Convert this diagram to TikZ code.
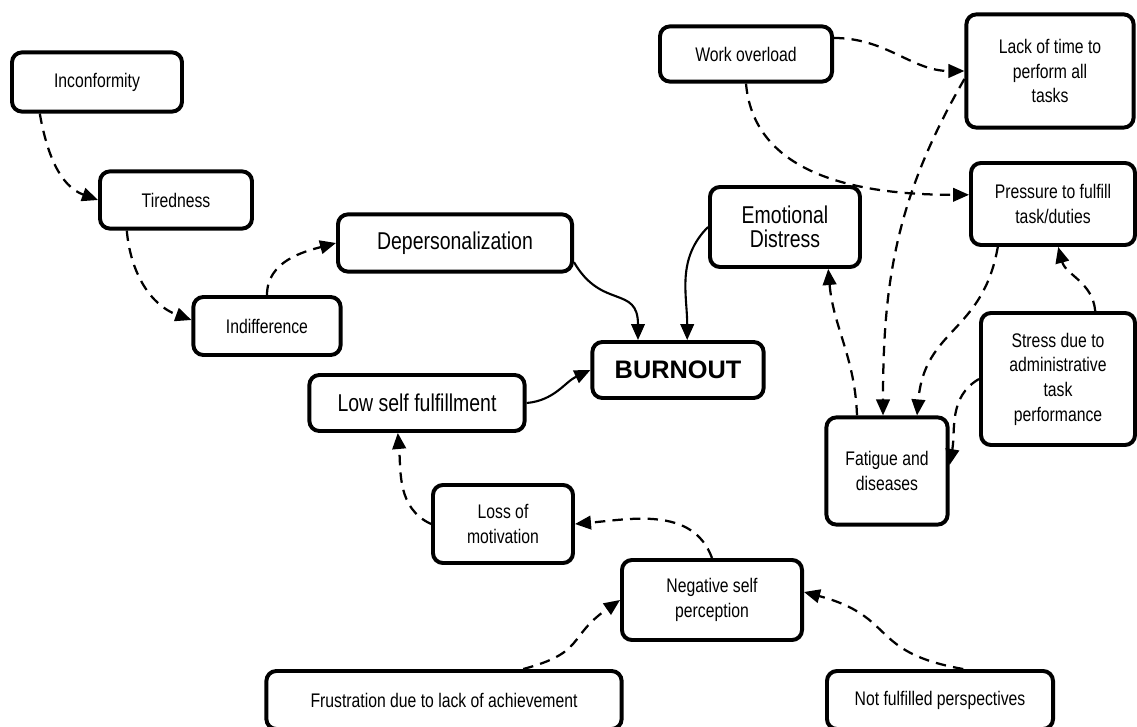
\documentclass[tikz,border=0pt]{standalone}
\usepackage{fontspec}
\setmainfont{Liberation Sans}[FakeStretch=0.8]
\newfontfamily\headfont{Liberation Sans}
\usetikzlibrary{arrows.meta}

\begin{document}
\begin{tikzpicture}[
                    x=0.025cm, y=-0.025cm,
                    every node/.style={
                        draw,
                        rectangle,
                        rounded corners=0.25cm,
                        line width=2.8pt,
                        align=center,
                        inner sep=2pt,
                        font=\fontsize{14}{17.5}\selectfont
                    },
                    big/.style={font=\fontsize{17.3}{17.5}\selectfont},
                    link/.style={line width=1.6pt, dash pattern=on 2.6mm off 1.8mm,
                        -{Triangle[length=4mm,width=3.4mm]}},
                    solidlink/.style={line width=1.5pt, -{Triangle[length=4mm,width=3.4mm]}}
                ]
                    \useasboundingbox (0,0) rectangle (1137,727);

                    \node[minimum width=4.25cm, minimum height=1.48cm] (incon) at (97,82) {Inconformity};
                    \node[minimum width=3.8cm, minimum height=1.43cm] (tired) at (176,200) {Tiredness};
                    \node[minimum width=3.68cm, minimum height=1.45cm] (indiff) at (267,326) {Indifference};
                    \node[big, minimum width=5.85cm, minimum height=1.43cm] (depers) at (455,243) {Depersonalization};
                    \node[big, minimum width=5.38cm, minimum height=1.4cm] (lowself) at (417,403) {Low self fulfillment};
                    \node[minimum width=4.28cm, minimum height=1.4cm,
                          font=\headfont\bfseries\fontsize{18}{20}\selectfont] (burnout) at (678,370) {BURNOUT};
                    \node[big, minimum width=3.75cm, minimum height=2cm] (emot) at (785,227) {Emotional\\Distress};
                    \node[minimum width=4.3cm, minimum height=1.38cm] (work) at (746,54) {Work overload};
                    \node[minimum width=4.18cm, minimum height=2.83cm] (lack) at (1050,71) {Lack of time to\\perform all\\tasks};
                    \node[minimum width=4.1cm, minimum height=2.05cm] (press) at (1053,204) {Pressure to fulfill\\task/duties};
                    \node[minimum width=3.85cm, minimum height=3.3cm] (stress) at (1058,379) {Stress due to\\administrative\\task\\performance};
                    \node[minimum width=3.03cm, minimum height=2.68cm] (fatigue) at (887,471) {Fatigue and\\diseases};
                    \node[minimum width=3.5cm, minimum height=1.95cm] (loss) at (503,524) {Loss of\\motivation};
                    \node[minimum width=4.5cm, minimum height=2cm] (neg) at (712,600) {Negative self\\perception};
                    \node[minimum width=8.88cm, minimum height=1.45cm] (frust) at (444,700) {Frustration due to lack of achievement};
                    \node[minimum width=5.65cm, minimum height=1.45cm] (notful) at (940,700) {Not fulfilled perspectives};

                    % Links
                    \draw[link] ([xshift=-1.43cm]incon.south) to[out=-80, in=160] (tired.west);
                    \draw[link] ([xshift=-1.23cm]tired.south) to[out=-85, in=160] ([yshift=0.15cm]indiff.west);
                    \draw[link] (indiff.north) to[out=90, in=195] (depers.west);
                    \draw[solidlink] ([yshift=-0.48cm]depers.east) to[out=-60, in=90, looseness=1.4] ([xshift=-1cm]burnout.north);
                    \draw[solidlink] (emot.west) to[out=225, in=90] ([xshift=0.23cm]burnout.north);
                    \draw[solidlink] (lowself.east) to[out=5, in=205] (burnout.west);
                    \draw[link] (loss.west) to[out=155, in=-85] ([xshift=-0.48cm]lowself.south);
                    \draw[link] (neg.north) to[out=110, in=5] (loss.east);
                    \draw[link] ([xshift=1.98cm]frust.north) to[out=15, in=215, looseness=1.4] (neg.west);
                    \draw[link] ([xshift=0.58cm]notful.north) to[out=170, in=-15, looseness=1.4] ([yshift=0.2cm]neg.east);
                    \draw[link] ([yshift=0.4cm]work.east) to[out=0, in=180] (lack.west);
                    \draw[link] (work.south) to[out=-85, in=180] ([yshift=0.23cm]press.west);
                    \draw[link] ([yshift=-0.2cm]lack.west) to[out=240, in=90] ([xshift=-0.1cm]fatigue.north);
                    \draw[link] ([xshift=-0.75cm]fatigue.north) to[out=92, in=-85] ([xshift=1.08cm]emot.south);
                    \draw[link] ([xshift=-1.38cm]press.south) to[out=-100, in=85, looseness=1.2] ([xshift=0.75cm]fatigue.north);
                    \draw[link] ([xshift=0.93cm]stress.north) to[out=95, in=-75] ([xshift=0.13cm]press.south);
                    \draw[link] (stress.west) to[out=210, in=80] ([yshift=0.15cm]fatigue.east);
                \end{tikzpicture}
\end{document}
